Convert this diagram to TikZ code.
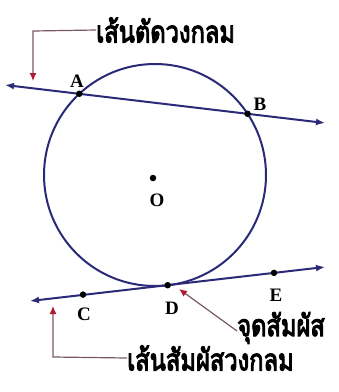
\documentclass[tikz,border=0pt]{standalone}
\usepackage{fontspec}
\setmainfont{Liberation Serif}
\newfontfamily\thaifont[Script=Thai, FakeBold=4]{Loma}
\usetikzlibrary{arrows.meta}
\definecolor{navy}{HTML}{2B2A78}
\definecolor{calloutc}{HTML}{7A5A62}
\definecolor{tipred}{HTML}{B01C2E}
\newcommand{\thaitext}[1]{\scalebox{1.03}[1.3]{\thaifont #1}}
\begin{document}
\begin{tikzpicture}[x=1pt,y=-1pt,
  geo/.style={draw=navy, line width=2pt},
  geoline/.style={geo, {Latex[length=9pt,width=7pt]}-{Latex[length=9pt,width=7pt]}},
  ptdot/.style={circle, fill=black, inner sep=0pt, minimum size=6.5pt},
  ptlabel/.style={font=\bfseries\fontsize{19}{19}\selectfont, inner sep=0pt},
  thailabel/.style={font=\fontsize{23}{23}\selectfont, inner sep=0pt, anchor=west},
  callout/.style={draw=calloutc, line width=1.2pt, -{Latex[length=8pt,width=7pt,color=tipred]}}
]
\fill[white] (0,0) rectangle (339,392);
\useasboundingbox (0,0) rectangle (339,392);

% circle
\coordinate (O) at (155,175);
\draw[geo] (O) circle[radius=111];

% secant line
\coordinate (sL) at (5,85);
\coordinate (sR) at (325,123);
\draw[geoline] (sL) -- (sR);
\node[ptdot] (A) at (79.3,93.8) {};
\node[ptdot] (B) at (247.6,113.8) {};

% tangent line
\coordinate (tL) at (30,301);
\coordinate (tR) at (325,267);
\draw[geoline] (tL) -- (tR);
\node[ptdot] (C) at (83,294.6) {};
\node[ptdot] (D) at (167.7,285.2) {};
\node[ptdot] (E) at (274,272.9) {};

% center
\node[ptdot] (Od) at (153,178) {};

% labels
\node[ptlabel] (lA) at (77,81) {A};
\node[ptlabel] (lB) at (260,104) {B};
\node[ptlabel] (lC) at (84,314) {C};
\node[ptlabel] (lD) at (172,308) {D};
\node[ptlabel] (lE) at (276,295) {E};
\node[ptlabel] (lO) at (157,200) {O};

% thai texts
\node[thailabel] (t1) at (96,30) {\thaitext{เส้นตัดวงกลม}};
\node[thailabel] (t2) at (127,358) {\thaitext{เส้นสัมผัสวงกลม}};
\node[thailabel] (t3) at (237,328) {\thaitext{จุดสัมผัส}};

% callouts
\coordinate (k1) at (33,31);
\coordinate (a1) at (33,81);
\draw[callout] (t1.west) -- (k1) -- (a1);
\coordinate (k2) at (53,357);
\coordinate (a2) at (53,306);
\draw[callout] (t2.west) -- (k2) -- (a2);
\coordinate (a3) at (179,289);
\draw[callout] ([yshift=-3pt]t3.west) -- (a3);
\end{tikzpicture}
\end{document}
